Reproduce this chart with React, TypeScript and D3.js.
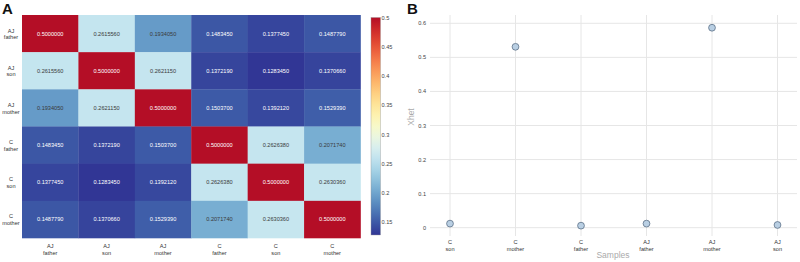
import React from "react";
import * as d3 from "d3";

const heatLabels = [
  ["AJ", "father"], ["AJ", "son"], ["AJ", "mother"],
  ["C", "father"], ["C", "son"], ["C", "mother"],
];
const kinship: number[][] = [
  [0.5, 0.261556, 0.193405, 0.148345, 0.137745, 0.148779],
  [0.261556, 0.5, 0.262115, 0.137219, 0.128345, 0.137066],
  [0.193405, 0.262115, 0.5, 0.15037, 0.139212, 0.152939],
  [0.148345, 0.137219, 0.15037, 0.5, 0.262638, 0.207174],
  [0.137745, 0.128345, 0.139212, 0.262638, 0.5, 0.263036],
  [0.148779, 0.137066, 0.152939, 0.207174, 0.263036, 0.5],
];
const cbTicks = [0.15, 0.2, 0.25, 0.3, 0.35, 0.4, 0.45, 0.5];

const samples = [
  ["C", "son"], ["C", "mother"], ["C", "father"],
  ["AJ", "father"], ["AJ", "mother"], ["AJ", "son"],
];
const xhet = [0.012, 0.531, 0.006, 0.012, 0.587, 0.008];
const yTicks = [0, 0.1, 0.2, 0.3, 0.4, 0.5, 0.6];

export default function App() {
  const W = 800, H = 262;
  const font = "Arial, 'Liberation Sans', sans-serif";
  // heatmap
  const hx = d3.scaleBand<number>().domain(d3.range(6)).range([22, 360.5]);
  const hy = d3.scaleBand<number>().domain(d3.range(6)).range([15, 238]);
  const flat = kinship.flat();
  const vmin = d3.min(flat)!, vmax = d3.max(flat)!;
  const cmap = (t: number) => d3.interpolateRdYlBu(0.03 + 0.97 * (1 - t));
  const color = d3.scaleSequential(cmap).domain([vmin, vmax]);
  const cbY = d3.scaleLinear().domain([vmin, vmax]).range([235, 17.5]);
  const cbX0 = 371, cbW = 9.5;
  const gradStops = d3.range(0, 1.0001, 0.05);

  // scatter
  const px = d3.scalePoint<number>().domain(d3.range(6)).range([450, 777.5]);
  const py = d3.scaleLinear().domain([0, 0.6]).range([227.7, 23.3]);

  const textColor = (v: number) => (v > 0.18 && v < 0.42 ? "#3a3a3a" : "#fff");

  return (
    <svg width={W} height={H} style={{ position: "absolute", left: 0, top: 0, background: "#fff" }} fontFamily={font}>
      <defs>
        <linearGradient id="cb" x1="0" y1="1" x2="0" y2="0">
          {gradStops.map((t) => (
            <stop key={t} offset={t} stopColor={cmap(t)} />
          ))}
        </linearGradient>
      </defs>
      <text x={2} y={14} fontSize={15} fontWeight="bold" fill="#111">A</text>
      <text x={407} y={13.5} fontSize={15} fontWeight="bold" fill="#111">B</text>

      {kinship.map((row, i) =>
        row.map((v, j) => (
          <g key={`${i}-${j}`}>
            <rect x={hx(j)} y={hy(i)} width={hx.bandwidth() + 0.3} height={hy.bandwidth() + 0.3} fill={color(v)} />
            <text x={hx(j)! + hx.bandwidth() / 2} y={hy(i)! + hy.bandwidth() / 2 + 2} fontSize={5.6} textAnchor="middle" fill={textColor(v)}>
              {v.toFixed(7)}
            </text>
          </g>
        ))
      )}
      {heatLabels.map((l, i) => (
        <text key={"r" + i} x={11} y={hy(i)! + hy.bandwidth() / 2 - 1} fontSize={5.6} textAnchor="middle" fill="#333">
          <tspan x={11}>{l[0]}</tspan>
          <tspan x={11} dy={6.6}>{l[1]}</tspan>
        </text>
      ))}
      {heatLabels.map((l, i) => (
        <text key={"c" + i} x={hx(i)! + hx.bandwidth() / 2} y={248} fontSize={5.6} textAnchor="middle" fill="#333">
          <tspan x={hx(i)! + hx.bandwidth() / 2}>{l[0]}</tspan>
          <tspan x={hx(i)! + hx.bandwidth() / 2} dy={6.6}>{l[1]}</tspan>
        </text>
      ))}
      <rect x={cbX0} y={cbY(vmax)} width={cbW} height={cbY(vmin) - cbY(vmax)} fill="url(#cb)" stroke="#999" strokeWidth={0.4} />
      {cbTicks.map((t) => (
        <text key={t} x={cbX0 + cbW + 1} y={cbY(t) + 2} fontSize={5.6} fill="#444">{String(t)}</text>
      ))}

      {/* scatter grid */}
      {yTicks.map((t) => (
        <g key={"y" + t}>
          <line x1={430} x2={797} y1={py(t)} y2={py(t)} stroke="#e6e6e6" strokeWidth={1} />
          <text x={426} y={py(t) + 2} fontSize={5.6} textAnchor="end" fill="#444">{String(t)}</text>
        </g>
      ))}
      {samples.map((s, i) => (
        <g key={"s" + i}>
          <line x1={px(i)} x2={px(i)} y1={15} y2={236} stroke="#e6e6e6" strokeWidth={1} />
          <text x={px(i)} y={244} fontSize={5.6} textAnchor="middle" fill="#333">
            <tspan x={px(i)}>{s[0]}</tspan>
            <tspan x={px(i)} dy={6.6}>{s[1]}</tspan>
          </text>
        </g>
      ))}
      {xhet.map((v, i) => (
        <circle key={"p" + i} cx={px(i)} cy={py(v)} r={3.4} fill="#b9cfe3" stroke="#5d7188" strokeWidth={0.8} />
      ))}
      <text x={613} y={258} fontSize={8.5} textAnchor="middle" fill="#aaa">Samples</text>
      <text transform={`translate(414,117) rotate(-90)`} fontSize={8.5} textAnchor="middle" fill="#aaa">Xhet</text>
    </svg>
  );
}
